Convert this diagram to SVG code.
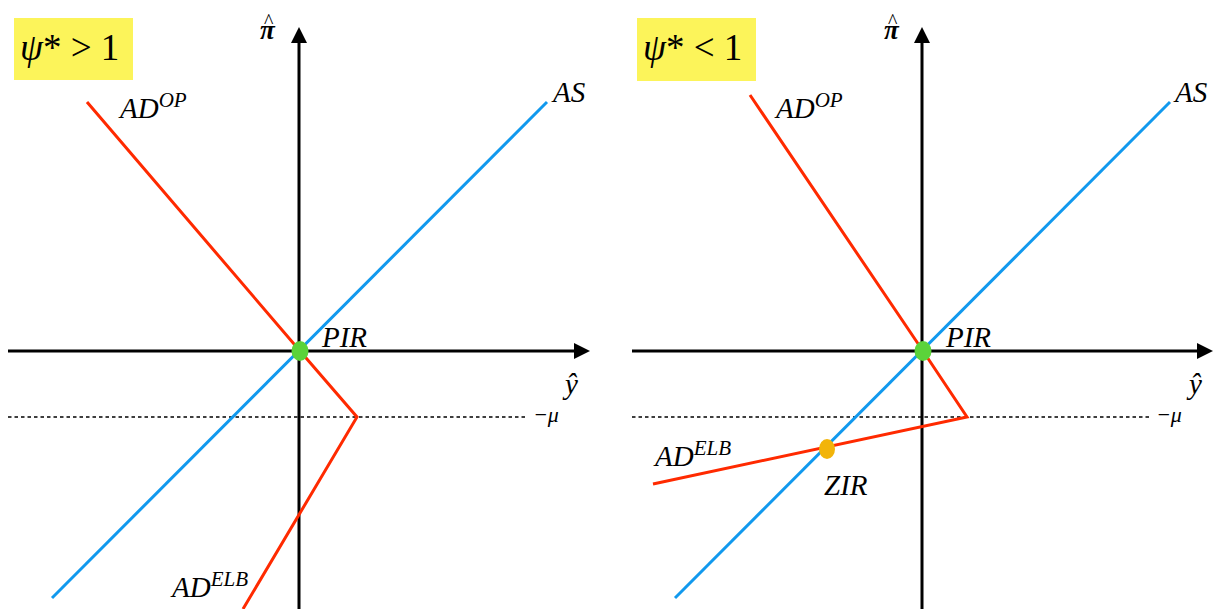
<svg xmlns="http://www.w3.org/2000/svg" width="1225" height="609" viewBox="0 0 1225 609">
<defs>
<style>
.ax{stroke:#000;stroke-width:3;fill:none}
.dot{stroke:#000;stroke-width:1.4;stroke-dasharray:3.5 3;fill:none}
.red{stroke:#ff2a00;stroke-width:3;fill:none}
.blue{stroke:#1199ee;stroke-width:3;fill:none}
.t{font-family:"Liberation Serif",serif;font-style:italic;fill:#000}
.lab{font-size:29px}
.sup{font-size:21px}
.pi{font-family:"Liberation Serif",serif;font-style:italic;font-weight:bold;font-size:27px;fill:#000}
.hat{font-family:"Liberation Serif",serif;font-size:20px;fill:#000}
.box{fill:#fcf45a}
.ttl{font-family:"Liberation Serif",serif;font-size:37px;fill:#000}
</style>
</defs>
<rect width="1225" height="609" fill="#fff"/>

<g id="left-panel">
<g id="left-title"><rect class="box" x="14" y="18" width="119" height="62"/>
<text class="ttl" x="20" y="60"><tspan font-style="italic">ψ</tspan>* &gt; 1</text></g>
<g id="left-connectors">
<line class="dot" x1="8" y1="417" x2="528" y2="417"/>
<path class="ax" d="M8,351 H574"/>
<path d="M574,343 L590,351 L574,359 Z"/>
<path class="ax" d="M299,609 V43"/>
<path d="M291,43 L299,27 L307,43 Z"/>
<line class="blue" x1="52" y1="598" x2="547" y2="102"/>
<polyline class="red" points="87,102 300,351 357,417 243,609"/>
</g>
<g id="left-labels">
<text class="pi" x="260" y="39">π</text><text class="hat" x="264" y="28">^</text>
<text class="t lab" x="565" y="394">ŷ</text>
<text class="t" x="533" y="422" font-size="22" font-style="normal">−<tspan font-style="italic">μ</tspan></text>
<text class="t lab" x="120" y="118">AD<tspan class="sup" dy="-11">OP</tspan></text>
<text class="t lab" x="553" y="102">AS</text>
<text class="t lab" x="172" y="597">AD<tspan class="sup" dy="-11">ELB</tspan></text>
<text class="t lab" x="322" y="347">PIR</text>
</g>
<g id="left-PIR"><ellipse cx="300" cy="351" rx="8.5" ry="10" fill="#5bd33a"/></g>
</g>

<g id="right-panel">
<g id="right-title"><rect class="box" x="637" y="18" width="119" height="63"/>
<text class="ttl" x="643" y="60"><tspan font-style="italic">ψ</tspan>* &lt; 1</text></g>
<g id="right-connectors">
<line class="dot" x1="632" y1="417" x2="1150" y2="417"/>
<path class="ax" d="M632,351 H1197"/>
<path d="M1197,343 L1213,351 L1197,359 Z"/>
<path class="ax" d="M922,609 V43"/>
<path d="M914,43 L922,27 L930,43 Z"/>
<line class="blue" x1="675" y1="598" x2="1170" y2="102"/>
<polyline class="red" points="750,95 923,351 967,417 653,484"/>
</g>
<g id="right-labels">
<text class="pi" x="884" y="39">π</text><text class="hat" x="888" y="28">^</text>
<text class="t lab" x="1189" y="394">ŷ</text>
<text class="t" x="1156" y="422" font-size="22" font-style="normal">−<tspan font-style="italic">μ</tspan></text>
<text class="t lab" x="776" y="118">AD<tspan class="sup" dy="-11">OP</tspan></text>
<text class="t lab" x="1175" y="102">AS</text>
<text class="t lab" x="655" y="466">AD<tspan class="sup" dy="-11">ELB</tspan></text>
<text class="t lab" x="946" y="347">PIR</text>
<text class="t lab" x="824" y="495">ZIR</text>
</g>
<g id="right-PIR"><ellipse cx="923" cy="351" rx="8.5" ry="10" fill="#5bd33a"/></g>
<g id="right-ZIR"><ellipse cx="827" cy="449" rx="8" ry="10" fill="#f2b40a"/></g>
</g>
</svg>
